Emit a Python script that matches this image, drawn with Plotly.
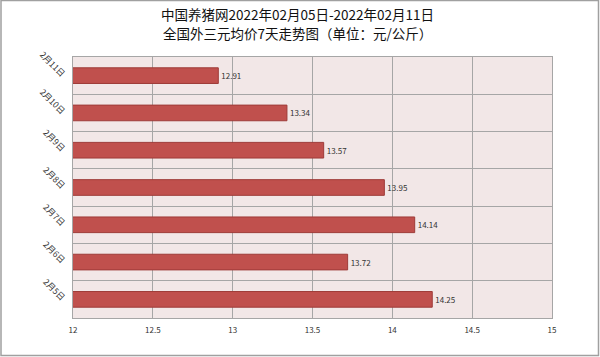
import plotly.graph_objects as go

categories = ["2月5日", "2月6日", "2月7日", "2月8日", "2月9日", "2月10日", "2月11日"]
values = [14.25, 13.72, 14.14, 13.95, 13.57, 13.34, 12.91]
x_ticks = [12, 12.5, 13, 13.5, 14, 14.5, 15]
x_tick_labels = ["12", "12.5", "13", "13.5", "14", "14.5", "15"]
title_lines = ["中国养猪网2022年02月05日-2022年02月11日", "全国外三元均价7天走势图（单位：元/公斤）"]

FONT = "Noto Sans CJK SC"
W, H = 600, 357
L, R, T, B = 73, 48, 57, 39
PW, PH = W - L - R, H - T - B


def px_x(px):
    return (px - L) / PW


def px_y(py):
    return (H - B - py) / PH


fig = go.Figure()
fig.add_trace(go.Bar(
    y=categories, x=values, orientation="h",
    width=0.42,
    marker=dict(color="#C0504D", line=dict(color="#9E3B38", width=1)),
    text=[f"{v:.2f}" for v in values],
    textposition="outside",
    textfont=dict(family=FONT, size=8, color="#333333"),
    cliponaxis=False,
))

annotations = []
for line, py in zip(title_lines, [14, 33]):
    annotations.append(dict(
        text=line, xref="paper", yref="paper", x=px_x(297), y=px_y(py),
        xanchor="center", yanchor="middle", showarrow=False,
        font=dict(family=FONT, size=13.5, color="#111111"),
    ))

fig.update_layout(
    width=W, height=H,
    margin=dict(l=L, r=R, t=T, b=B),
    paper_bgcolor="white",
    plot_bgcolor="#F2E7E7",
    showlegend=False,
    annotations=annotations,
    xaxis=dict(
        range=[12, 15], tickvals=x_ticks, ticktext=x_tick_labels,
        showgrid=True, gridcolor="#A6A6A6", gridwidth=1,
        zeroline=False, showline=True, linecolor="#A6A6A6", mirror=True,
        ticks="", tickfont=dict(family=FONT, size=8, color="#333333"),
        ticklabelstandoff=4,
    ),
    yaxis=dict(
        type="category", categoryorder="array", categoryarray=categories,
        tickson="boundaries", showgrid=True, gridcolor="#A6A6A6", gridwidth=1,
        showline=True, linecolor="#A6A6A6", mirror=True,
        ticks="", tickangle=45, ticklabelstandoff=6,
        tickfont=dict(family=FONT, size=8.5, color="#333333"),
    ),
    shapes=[dict(type="rect", xref="paper", yref="paper",
                 x0=px_x(1), x1=px_x(598.5),
                 y0=px_y(355.5), y1=px_y(0.5),
                 line=dict(color="#A0A0A0", width=1.5), layer="below")],
)

fig.write_html("out.html")
